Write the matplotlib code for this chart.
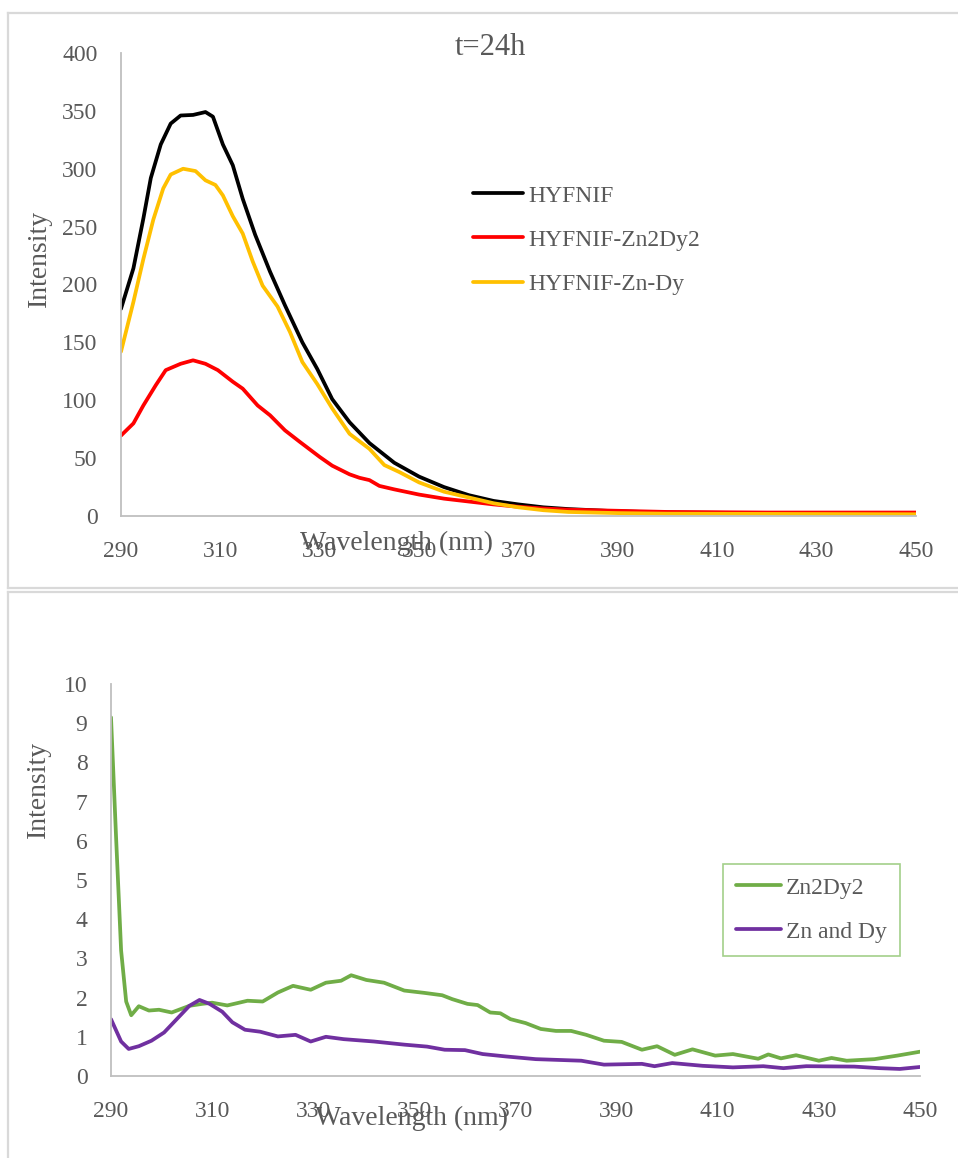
import matplotlib
matplotlib.use('Agg')
import matplotlib.pyplot as plt
from matplotlib.lines import Line2D

# ---------------- data ----------------
# top panel: t=24h
WL_HYFNIF = [290, 292.5, 294.5, 296, 298, 300, 302, 304.5, 307, 308.5, 310.5, 312.5,
             314.5, 317, 320, 323, 326.5, 329.5, 332.5, 336, 340, 345, 350, 355,
             360, 365, 370, 375, 380, 390, 400, 420, 450]
I_HYFNIF = [179, 214, 257, 292, 321, 339, 346, 346.5, 349, 345, 321, 303,
            274, 243, 211, 182, 150, 127, 101, 81, 63, 46, 34, 25,
            18, 13, 10, 7.5, 6, 4, 3, 2.5, 2]

WL_ZN2DY2 = [290, 292.5, 294.5, 297, 299, 302, 304.5, 307, 309.5, 312.5, 314.5, 317.5,
             320, 323, 326, 330, 332.5, 336, 338, 340, 342, 345, 350, 355,
             360, 365, 370, 375, 380, 390, 400, 420, 450]
I_ZN2DY2 = [69.5, 80, 95.5, 113, 126, 131.5, 134.5, 131.5, 126, 116, 110, 95.5,
            87, 74, 64, 51, 43.5, 36, 33, 31, 26, 23, 18.5, 15,
            12.5, 10, 8, 6.5, 5.5, 4.5, 3.5, 3, 3]

WL_ZNDY = [290, 292.5, 294.5, 296.5, 298.5, 300, 302.5, 305, 307, 309, 310.5, 312.5,
           314.5, 316.5, 318.5, 321.5, 324, 326.5, 329.5, 332.5, 336, 340, 343, 346,
           350, 355, 360, 365, 370, 375, 380, 390, 400, 450]
I_ZNDY = [142, 185, 222, 256, 283, 295, 300, 298, 290, 286, 277, 259,
          244, 220, 199, 181, 159, 133, 114, 93, 71, 58, 44, 38,
          29, 21, 16, 11, 7.5, 5, 3.5, 2.5, 2, 1.5]

# bottom panel: metal salts only
WL_B_ZN2DY2 = [290, 291, 292, 293, 294, 295.5, 297.5, 299.5, 302, 305.5, 308, 310,
               313, 317, 320, 323, 326, 329.5, 332.5, 335.5, 337.5, 340.5, 344, 348,
               352, 355.5, 357.5, 360.5, 362.5, 365, 367, 369, 372, 375, 378, 381,
               384, 387.5, 391, 395, 398, 401.5, 405, 409.5, 413, 418, 420, 422.5,
               425.5, 430, 432.5, 435.5, 441, 445.5, 450]
I_B_ZN2DY2 = [9.15, 6.1, 3.2, 1.9, 1.55, 1.78, 1.67, 1.69, 1.62, 1.79, 1.84, 1.87,
              1.8, 1.92, 1.9, 2.13, 2.3, 2.2, 2.38, 2.43, 2.57, 2.45, 2.38, 2.18,
              2.12, 2.06, 1.96, 1.84, 1.81, 1.62, 1.6, 1.45, 1.35, 1.2, 1.15, 1.15,
              1.05, 0.9, 0.87, 0.67, 0.76, 0.54, 0.68, 0.52, 0.56, 0.44, 0.55, 0.45,
              0.53, 0.39, 0.46, 0.39, 0.43, 0.52, 0.62]

WL_B_ZNDY = [290, 292, 293.5, 295.5, 298, 300.5, 303, 305.5, 307.5, 309.5, 312, 314,
             316.5, 319.5, 323, 326.5, 329.5, 332.5, 336, 342, 348, 352.5, 356, 360,
             363.5, 368, 374, 383, 387.5, 395, 397.5, 401, 407, 413, 419, 423,
             427.5, 437, 442, 446, 450]
I_B_ZNDY = [1.45, 0.88, 0.69, 0.76, 0.9, 1.11, 1.45, 1.79, 1.94, 1.84, 1.64, 1.37,
            1.18, 1.13, 1.01, 1.05, 0.88, 1.0, 0.94, 0.88, 0.8, 0.75, 0.67, 0.66,
            0.56, 0.5, 0.43, 0.39, 0.29, 0.31, 0.25, 0.33, 0.26, 0.22, 0.25, 0.2,
            0.25, 0.24, 0.2, 0.18, 0.23]

X_TICKS = [290, 310, 330, 350, 370, 390, 410, 430, 450]
Y_TICKS_TOP = [0, 50, 100, 150, 200, 250, 300, 350, 400]
Y_TICKS_BOT = list(range(0, 11))

# ---------------- style ----------------
plt.rcParams['font.family'] = ['Liberation Serif', 'DejaVu Serif']
TXT = '#595959'
AX_GRAY = '#BFBFBF'
FRAME = '#D9D9D9'
W, H = 958, 1158

fig = plt.figure(figsize=(W / 100, H / 100), dpi=100)


def px_axes(left, top, right, bottom):
    return fig.add_axes([left / W, 1 - bottom / H, (right - left) / W, (bottom - top) / H])


def style_axes(ax, yticks):
    for s in ['top', 'right']:
        ax.spines[s].set_visible(False)
    for s in ['left', 'bottom']:
        ax.spines[s].set_color(AX_GRAY)
        ax.spines[s].set_linewidth(1.3)
    ax.set_xlim(290, 450)
    ax.set_ylim(yticks[0], yticks[-1])
    ax.set_xticks(X_TICKS)
    ax.set_yticks(yticks)
    ax.tick_params(axis='both', length=0, labelsize=17, labelcolor=TXT)
    ax.tick_params(axis='x', pad=18)
    ax.tick_params(axis='y', pad=17)


# panel frames (Excel chart areas)
def fline(xs, ys):
    fig.add_artist(Line2D([x / W for x in xs], [1 - y / H for y in ys],
                          color=FRAME, lw=1.6, transform=fig.transFigure))


fline([8, 958], [13, 13])
fline([8, 8], [13, 588])
fline([8, 958], [588, 588])
fline([8, 958], [592, 592])
fline([8, 8], [592, 1158])

# ---------------- top chart ----------------
ax1 = px_axes(121, 53, 916, 516)
style_axes(ax1, Y_TICKS_TOP)
ax1.plot(WL_HYFNIF, I_HYFNIF, color='black', lw=2.7, label='HYFNIF', solid_capstyle='round')
ax1.plot(WL_ZN2DY2, I_ZN2DY2, color='#FF0000', lw=2.7, label='HYFNIF-Zn2Dy2', solid_capstyle='round')
ax1.plot(WL_ZNDY, I_ZNDY, color='#FFC000', lw=2.7, label='HYFNIF-Zn-Dy', solid_capstyle='round')
ax1.set_xlabel('Wavelength (nm)', fontsize=20, color=TXT)
ax1.xaxis.label.set_va('baseline')
ax1.xaxis.set_label_coords(0.346, -0.0734)
ax1.set_ylabel('Intensity', fontsize=20, color=TXT)
ax1.yaxis.label.set_va('center')
ax1.yaxis.set_label_coords(-0.103, 0.557)
leg1 = ax1.legend(loc='upper left', bbox_to_anchor=(473 / W, 1 - 185 / H),
                  bbox_transform=fig.transFigure, frameon=False, fontsize=17,
                  handlelength=2.1, handletextpad=0.25, labelspacing=0.96,
                  borderpad=0, borderaxespad=0)
for t in leg1.get_texts():
    t.set_color(TXT)

fig.text(490 / W, 1 - 55 / H, 't=24h', fontsize=22, color=TXT, ha='center', va='baseline')

# ---------------- bottom chart ----------------
ax2 = px_axes(111, 684, 920, 1076)
style_axes(ax2, Y_TICKS_BOT)
ax2.plot(WL_B_ZN2DY2, I_B_ZN2DY2, color='#70AD47', lw=2.7, label='Zn2Dy2', solid_capstyle='round')
ax2.plot(WL_B_ZNDY, I_B_ZNDY, color='#7030A0', lw=2.7, label='Zn and Dy', solid_capstyle='round')
ax2.set_xlabel('Wavelength (nm)', fontsize=20, color=TXT)
ax2.xaxis.label.set_va('baseline')
ax2.xaxis.set_label_coords(0.372, -0.125)
ax2.set_ylabel('Intensity', fontsize=20, color=TXT)
ax2.yaxis.label.set_va('center')
ax2.yaxis.set_label_coords(-0.09, 0.73)
leg2 = ax2.legend(loc='upper left', bbox_to_anchor=(723 / W, 1 - 864 / H),
                  bbox_transform=fig.transFigure, frameon=True, fancybox=False,
                  fontsize=17, handlelength=1.9, handletextpad=0.22, labelspacing=0.96,
                  borderpad=0.55, borderaxespad=0, framealpha=1)
leg2.get_frame().set_edgecolor('#A3D08A')
leg2.get_frame().set_linewidth(1.2)
for t in leg2.get_texts():
    t.set_color(TXT)

fig.savefig('out.png', dpi=100, facecolor='white')
